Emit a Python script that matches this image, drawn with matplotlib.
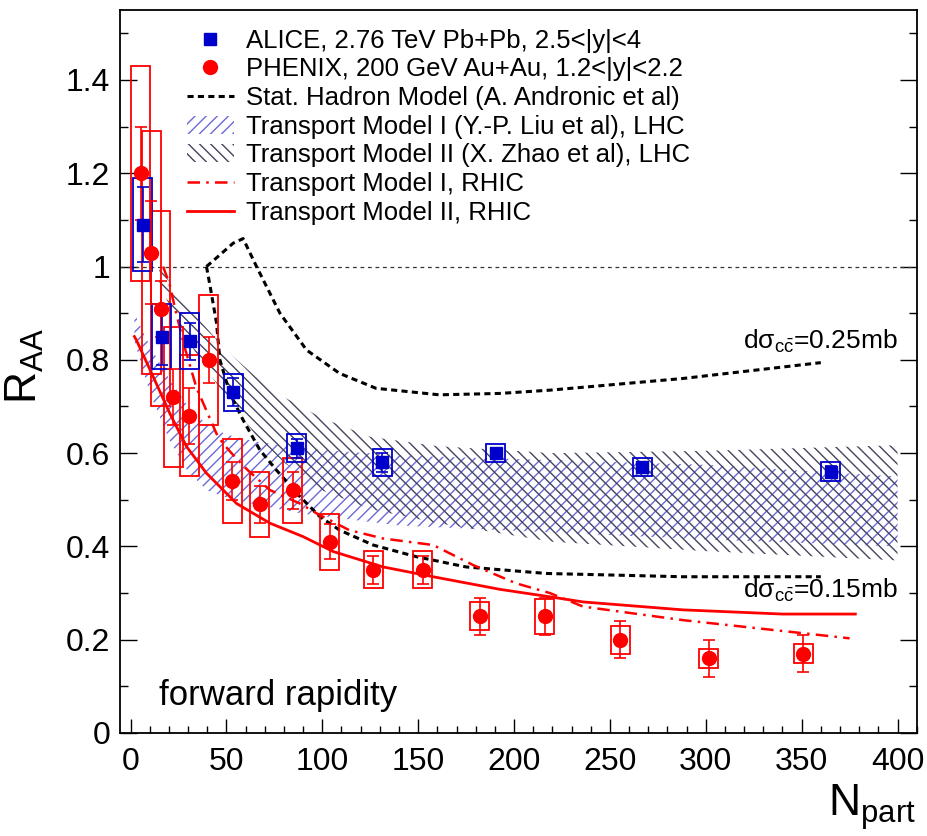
import matplotlib
matplotlib.use("Agg")
import matplotlib.pyplot as plt
from matplotlib.patches import Rectangle, Patch
from matplotlib.lines import Line2D
from matplotlib.ticker import MultipleLocator, FuncFormatter

plt.rcParams['font.family'] = ['Liberation Sans', 'DejaVu Sans']
plt.rcParams['mathtext.fontset'] = 'custom'
plt.rcParams['mathtext.rm'] = 'Liberation Sans'
plt.rcParams['mathtext.it'] = 'Liberation Sans:italic'
plt.rcParams['hatch.linewidth'] = 1.0

# ALICE, 2.76 TeV Pb+Pb
alice_npart = [6.4, 16.2, 30.9, 53.5, 86.6, 131.4, 190.5, 266.8, 365.2]
alice_raa = [1.09, 0.85, 0.84, 0.73, 0.61, 0.58, 0.60, 0.57, 0.56]
alice_stat = [0.08, 0.06, 0.04, 0.03, 0.02, 0.02, 0.012, 0.012, 0.012]
alice_syst = [0.10, 0.07, 0.06, 0.04, 0.03, 0.028, 0.02, 0.02, 0.02]

# PHENIX, 200 GeV Au+Au
phenix_npart = [5.4, 10.9, 15.8, 22.2, 30.6, 40.8, 53.0, 67.4, 84.5, 103.9,
                126.5, 152.3, 182.2, 216.0, 255.5, 301.6, 350.8]
phenix_raa = [1.20, 1.03, 0.91, 0.72, 0.68, 0.80, 0.54, 0.49, 0.52, 0.41,
              0.35, 0.35, 0.25, 0.25, 0.20, 0.16, 0.17]
phenix_stat = [0.10, 0.11, 0.06, 0.06, 0.06, 0.05, 0.04, 0.04, 0.04, 0.037,
               0.03, 0.03, 0.04, 0.04, 0.04, 0.04, 0.04]
phenix_syst = [0.23, 0.26, 0.21, 0.15, 0.13, 0.14, 0.09, 0.07, 0.07, 0.06,
               0.04, 0.04, 0.03, 0.038, 0.03, 0.02, 0.02]

# statistical hadronization model
shm25_npart = [39.6, 46.6, 53.5, 58.7, 65.7, 77.9, 91.8, 109, 128, 161, 192.6, 218.7, 288, 360]
shm25_raa = [1.0, 1.025, 1.05, 1.06, 1.0, 0.9, 0.821, 0.771, 0.739, 0.725, 0.728, 0.735, 0.76, 0.794]
shm15_npart = [39.6, 41.4, 44.8, 46.6, 51.8, 58.7, 67.4, 76, 88.3, 98.7, 109, 126.5,
               149, 175, 217, 288, 360]
shm15_raa = [1.0, 0.96, 0.88, 0.80, 0.728, 0.671, 0.607, 0.564, 0.507, 0.464, 0.435, 0.403,
             0.378, 0.356, 0.342, 0.335, 0.335]

# transport models, LHC bands
tm1_npart = [2, 10, 20, 30, 40, 50, 65, 90, 140, 220, 300, 400]
tm1_low = [0.84, 0.73, 0.63, 0.56, 0.52, 0.505, 0.49, 0.47, 0.445, 0.43, 0.415, 0.40]
tm1_high = [0.90, 0.83, 0.76, 0.70, 0.66, 0.64, 0.625, 0.61, 0.595, 0.585, 0.575, 0.55]
tm2_npart = [15, 25, 36, 50, 65, 80, 100, 125, 160, 220, 300, 400]
tm2_low = [0.96, 0.88, 0.80, 0.72, 0.64, 0.58, 0.52, 0.48, 0.45, 0.41, 0.39, 0.37]
tm2_high = [1.0, 0.94, 0.885, 0.82, 0.765, 0.72, 0.675, 0.635, 0.615, 0.60, 0.605, 0.617]

# transport models, RHIC curves
tm1r_npart = [17, 20.5, 23, 28, 34.4, 44.8, 48.3, 54.4, 61, 72.6, 88.3, 97, 114, 131.7,
              157.8, 178.7, 201, 218.7, 236, 288, 375]
tm1r_raa = [1.0, 0.96, 0.914, 0.83, 0.74, 0.642, 0.62, 0.592, 0.564, 0.521, 0.492, 0.471,
            0.435, 0.417, 0.403, 0.36, 0.321, 0.30, 0.271, 0.242, 0.203]
tm2r_npart = [2, 3.1, 11.8, 20.5, 29.2, 39.6, 55.3, 72.6, 90, 105.7, 131.7, 157.8, 192.6,
              218.7, 236, 288, 340, 378]
tm2r_raa = [0.85, 0.842, 0.764, 0.685, 0.614, 0.557, 0.492, 0.45, 0.421, 0.389, 0.356,
            0.335, 0.308, 0.292, 0.281, 0.264, 0.255, 0.255]

blue = '#0000cc'
red = '#ff0000'
band1_col = '#6a6ad8'
band2_col = '#44445e'
box_w = 10

fig = plt.figure(figsize=(9.28, 8.36), dpi=100)
ax = fig.add_axes([120 / 928, 1 - 733 / 836, 796.7 / 928, 723 / 836])

ax.fill_between(tm1_npart, tm1_low, tm1_high, facecolor='none', edgecolor=band1_col,
                hatch='///', linewidth=0, zorder=1)
ax.fill_between(tm2_npart, tm2_low, tm2_high, facecolor='none', edgecolor=band2_col,
                hatch='\\\\\\', linewidth=0, zorder=1)

ax.axhline(1.0, color='#333333', lw=0.9, ls=(0, (3, 3)), zorder=2)
ax.plot(shm25_npart, shm25_raa, color='k', lw=2.2, ls=(0, (2, 1.4)), zorder=3)
ax.plot(shm15_npart, shm15_raa, color='k', lw=2.2, ls=(0, (2, 1.4)), zorder=3)
ax.plot(tm1r_npart, tm1r_raa, color=red, lw=1.8, ls=(0, (5, 2.5, 1, 2.5)), zorder=3)
ax.plot(tm2r_npart, tm2r_raa, color=red, lw=2.0, zorder=3)

for n, r, s in zip(phenix_npart, phenix_raa, phenix_syst):
    ax.add_patch(Rectangle((n - box_w / 2, r - s), box_w, 2 * s, fill=False,
                           edgecolor=red, lw=1.3, zorder=4))
for n, r, s in zip(alice_npart, alice_raa, alice_syst):
    ax.add_patch(Rectangle((n - box_w / 2, r - s), box_w, 2 * s, fill=False,
                           edgecolor=blue, lw=1.3, zorder=4))

ax.errorbar(phenix_npart, phenix_raa, yerr=phenix_stat, fmt='o', color=red, ms=10,
            capsize=4.5, elinewidth=1.2, capthick=1.2, zorder=5)
ax.errorbar(alice_npart, alice_raa, yerr=alice_stat, fmt='s', color=blue, ms=9,
            capsize=4.5, elinewidth=1.2, capthick=1.2, zorder=5)

ax.text(400, 0.824, 'dσ$_{\\mathrm{c}\\bar{\\mathrm{c}}}$=0.25mb', ha='right',
        va='baseline', fontsize=19)
ax.text(400, 0.289, 'dσ$_{\\mathrm{c}\\bar{\\mathrm{c}}}$=0.15mb', ha='right',
        va='baseline', fontsize=19)
ax.text(14.9, 0.06, 'forward rapidity', fontsize=25, va='baseline')

handles = [
    Line2D([], [], marker='s', color=blue, ls='none', ms=9),
    Line2D([], [], marker='o', color=red, ls='none', ms=10),
    Line2D([], [], color='k', lw=2.2, ls=(0, (2, 1.4))),
    Patch(facecolor='none', edgecolor=band1_col, hatch='///', linewidth=0),
    Patch(facecolor='none', edgecolor=band2_col, hatch='\\\\\\', linewidth=0),
    Line2D([], [], color=red, lw=1.8, ls=(0, (5, 2.5, 1, 2.5))),
    Line2D([], [], color=red, lw=2.0),
]
labels = [
    'ALICE, 2.76 TeV Pb+Pb, 2.5<|y|<4',
    'PHENIX, 200 GeV Au+Au, 1.2<|y|<2.2',
    'Stat. Hadron Model (A. Andronic et al)',
    'Transport Model I (Y.-P. Liu et al), LHC',
    'Transport Model II (X. Zhao et al), LHC',
    'Transport Model I, RHIC',
    'Transport Model II, RHIC',
]
ax.legend(handles, labels, loc='upper left', bbox_to_anchor=(0.0837, 0.974),
          frameon=False, fontsize=18.5, handlelength=1.85, handletextpad=0.47,
          labelspacing=0.18, borderaxespad=0, borderpad=0)

ax.set_xlim(-5.5, 410)
ax.set_ylim(0, 1.55)
ax.xaxis.set_major_locator(MultipleLocator(50))
ax.xaxis.set_minor_locator(MultipleLocator(10))
ax.yaxis.set_major_locator(MultipleLocator(0.2))
ax.yaxis.set_minor_locator(MultipleLocator(0.1))
ax.yaxis.set_major_formatter(FuncFormatter(lambda v, p: '%g' % round(v, 2)))
ax.tick_params(which='both', direction='in', top=False, right=True, labelsize=23)
ax.tick_params(axis='x', which='major', length=10, width=1.0, pad=10)
ax.tick_params(axis='x', which='minor', length=5, width=1.0)
ax.tick_params(axis='y', which='major', length=12, width=1.0, pad=7)
ax.tick_params(axis='y', which='minor', length=6, width=1.0)
for sp in ax.spines.values():
    sp.set_linewidth(1.3)

fig.text(916 / 928, 1 - 816 / 836, 'N$_{\\mathrm{part}}$', ha='right', va='baseline',
         fontsize=32)
fig.text(4 / 928, 1 - 328 / 836, 'R$_{\\mathrm{AA}}$', rotation=90, ha='left', va='top',
         fontsize=32)

fig.savefig('out.png', dpi=100)
